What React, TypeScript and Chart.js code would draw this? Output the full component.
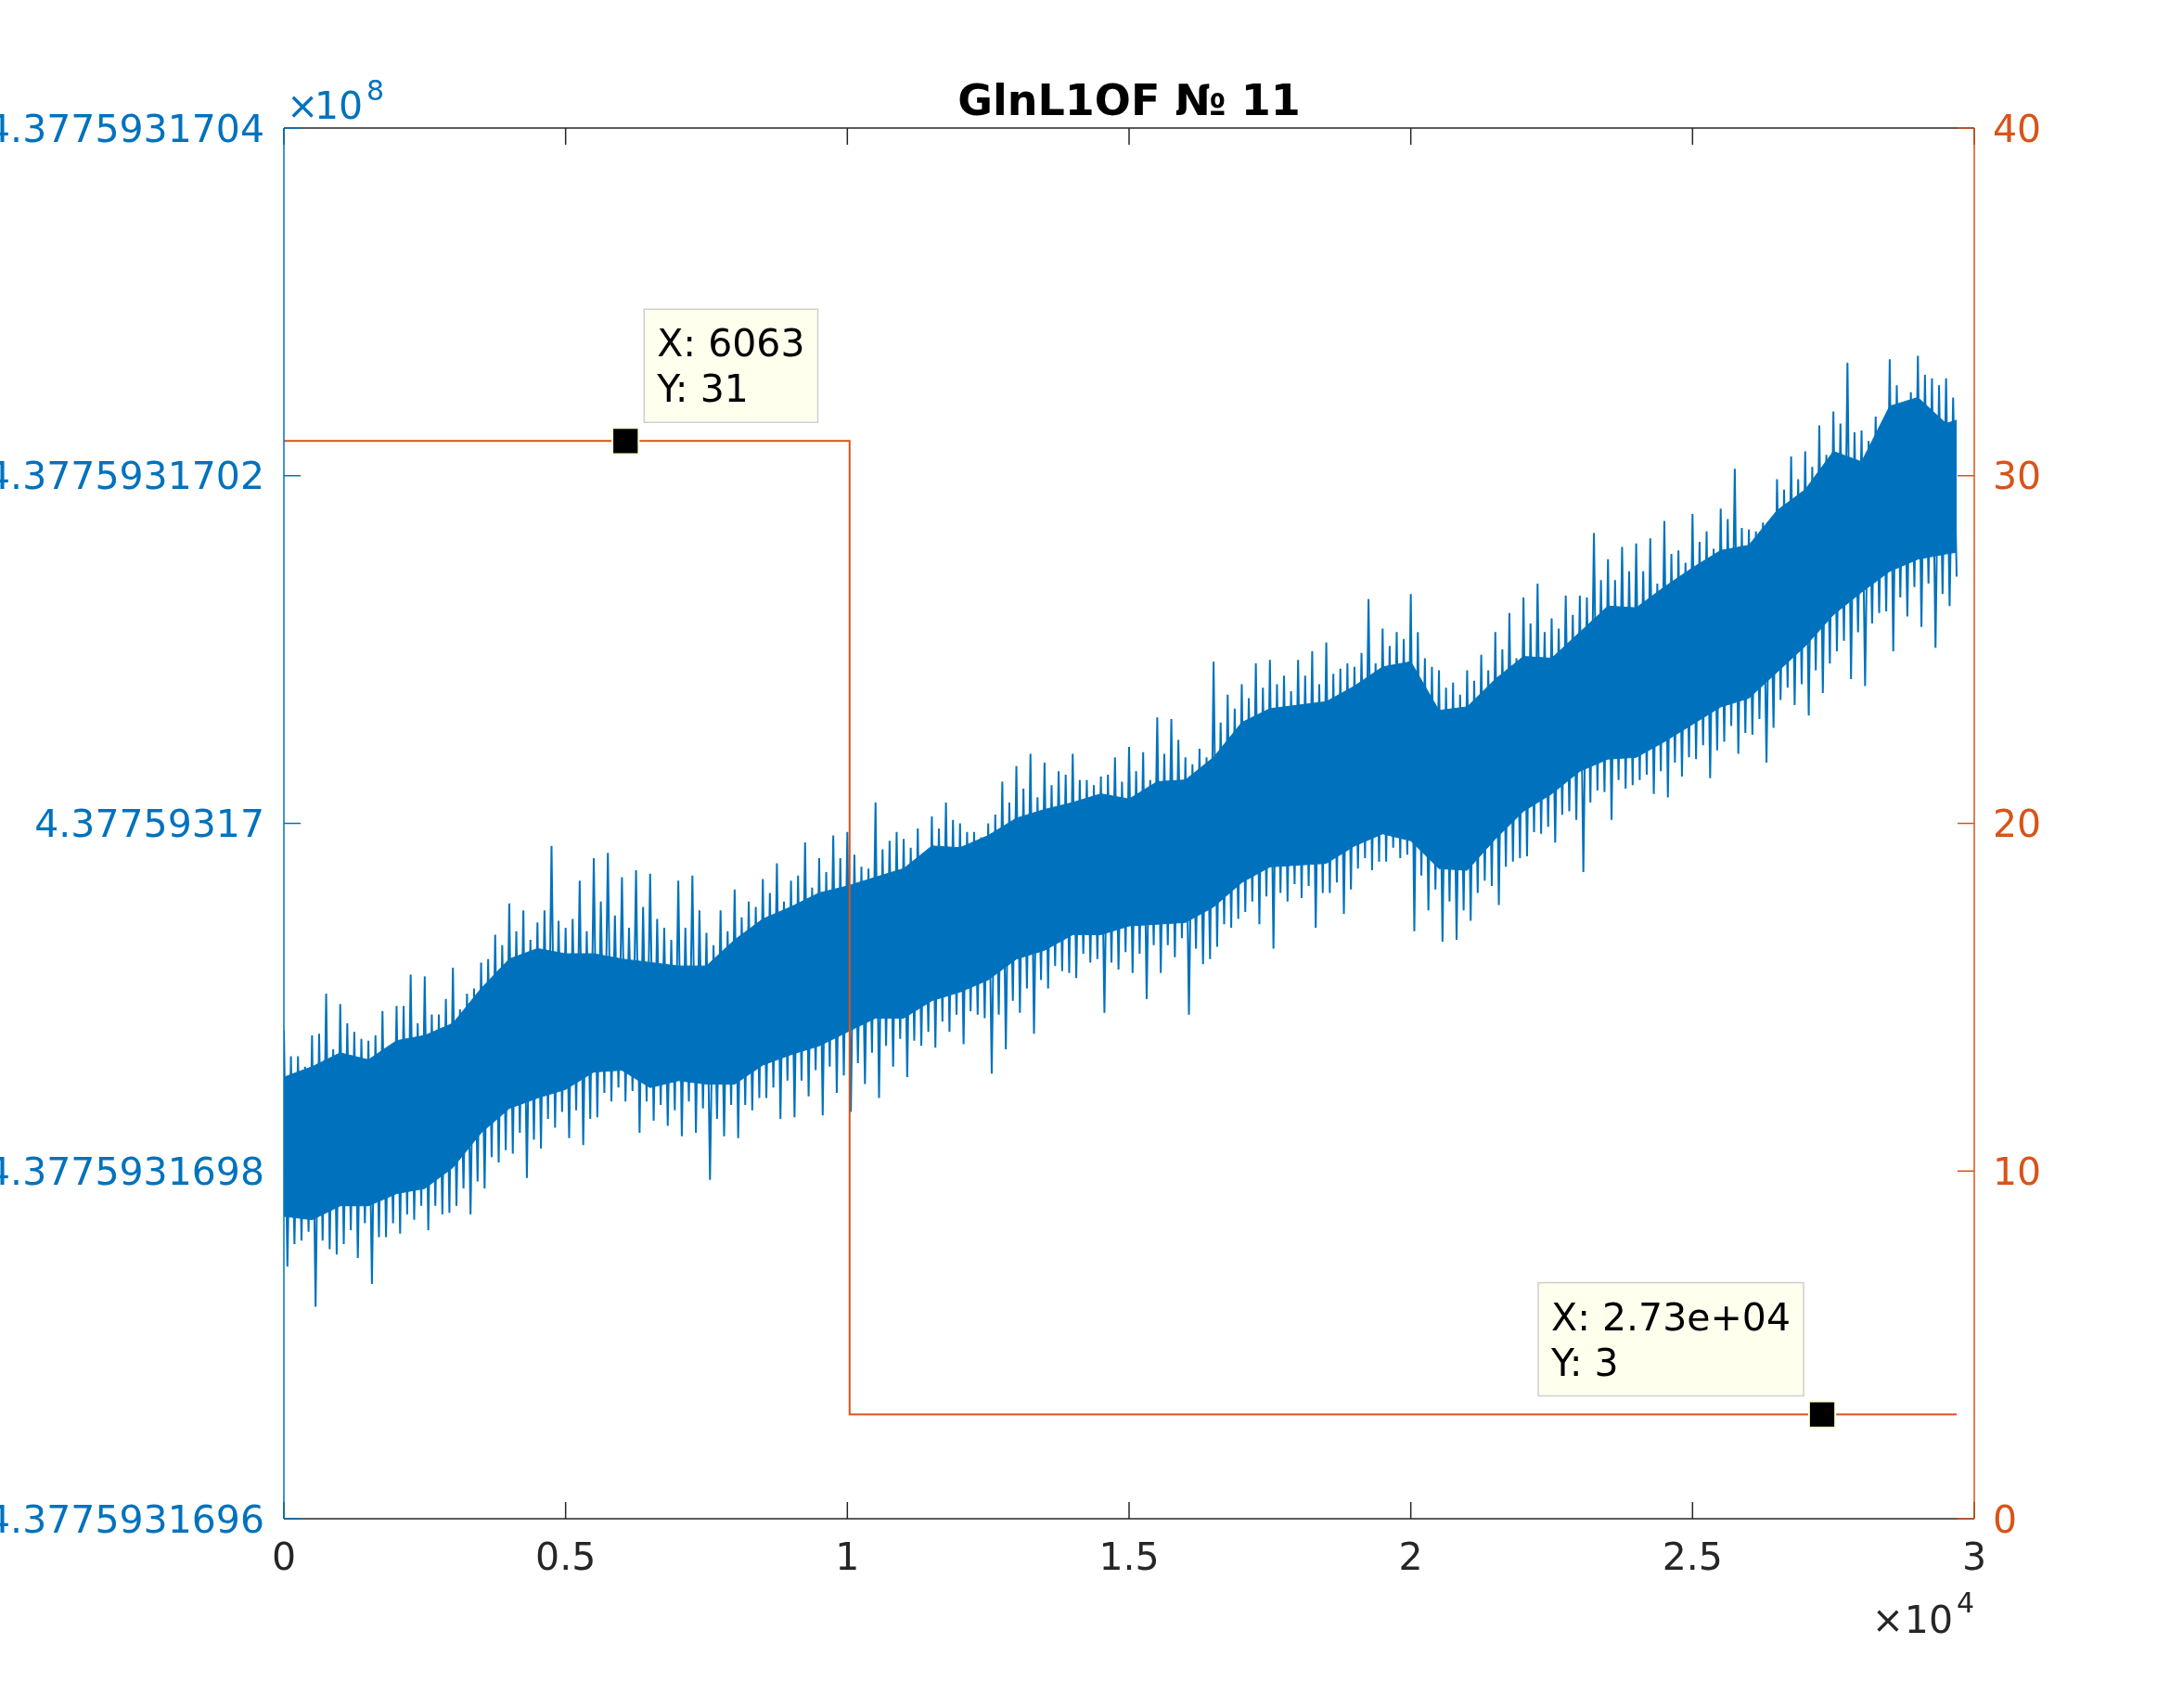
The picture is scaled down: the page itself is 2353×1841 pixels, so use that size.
import React, { useEffect, useRef } from "react";
import { Chart, registerables } from "chart.js";

Chart.register(...registerables);

// ---------------- data ----------------
// x axis (samples), shown as ×10^4
const X_MIN = 0;
const X_MAX = 30000;
const X_TICK_VALUES = [0, 5000, 10000, 15000, 20000, 25000, 30000];
const X_TICK_LABELS = ["0", "0.5", "1", "1.5", "2", "2.5", "3"];

// left axis: values stored as offset above 4.3775931696×10^8, in units of 1e-10 (×10^8)
const LEFT_MIN = 0;
const LEFT_MAX = 8;
const LEFT_TICK_VALUES = [0, 2, 4, 6, 8];
const LEFT_TICK_LABELS = [
  "4.3775931696",
  "4.3775931698",
  "4.37759317",
  "4.3775931702",
  "4.3775931704",
];

// right axis
const RIGHT_MIN = 0;
const RIGHT_MAX = 40;
const RIGHT_TICK_VALUES = [0, 10, 20, 30, 40];
const RIGHT_TICK_LABELS = ["0", "10", "20", "30", "40"];

// last sample index of both series
const BLUE_END_X = 29690;

// blue signal: dense core of the noise band, every 500 samples (last point at BLUE_END_X)
const CORE_STEP = 500;
const blueCoreTop = [
  2.54, 2.6, 2.68, 2.64, 2.75, 2.78, 2.85, 3.05, 3.22, 3.28,
  3.25, 3.25, 3.22, 3.2, 3.18, 3.18, 3.33, 3.45, 3.52, 3.6,
  3.64, 3.69, 3.74, 3.87, 3.86, 3.93, 4.03, 4.08, 4.12, 4.17,
  4.14, 4.24, 4.25, 4.38, 4.58, 4.66, 4.68, 4.7, 4.79, 4.9,
  4.93, 4.65, 4.67, 4.83, 4.96, 4.95, 5.1, 5.25, 5.24, 5.36,
  5.47, 5.57, 5.6, 5.8, 5.92, 6.14, 6.08, 6.4, 6.45, 6.3,
  6.32,
];
const blueCoreBottom = [
  1.74, 1.72, 1.8, 1.8, 1.87, 1.9, 2.02, 2.22, 2.36, 2.42,
  2.47, 2.57, 2.58, 2.48, 2.52, 2.5, 2.5, 2.61, 2.67, 2.72,
  2.8, 2.88, 2.88, 2.98, 3.03, 3.1, 3.22, 3.27, 3.36, 3.36,
  3.41, 3.42, 3.43, 3.52, 3.66, 3.75, 3.76, 3.77, 3.87, 3.94,
  3.9, 3.74, 3.73, 3.91, 4.07, 4.17, 4.3, 4.37, 4.38, 4.47,
  4.57, 4.67, 4.72, 4.87, 5.02, 5.2, 5.33, 5.45, 5.52, 5.55,
  5.56,
];

// blue signal spikes, one group per 250 samples:
// tall maxima (at +0), deep minima (at +62.5), smaller maxima (at +125), smaller minima (at +187.5)
const SPIKE_STEP = 250;
const blueSpikeHigh = [
  2.81, 2.66, 2.78, 3.02, 2.96, 2.8, 2.75, 2.92, 2.95, 3.13,
  3.12, 2.9, 3.17, 3.02, 3.2, 3.36, 3.54, 3.5, 3.43, 3.87,
  3.4, 3.67, 3.8, 3.83, 3.69, 3.73, 3.71, 3.4, 3.67, 3.7,
  3.37, 3.5, 3.62, 3.55, 3.68, 3.77, 3.67, 3.89, 3.8, 3.93,
  3.95, 3.75, 4.12, 3.9, 3.91, 3.97, 4.04, 4.12, 4.0, 3.95,
  4.0, 4.24, 4.33, 4.4, 4.35, 4.3, 4.4, 4.25, 4.27, 4.38,
  4.44, 4.41, 4.61, 4.6, 4.38, 4.43, 4.93, 4.74, 4.8, 4.92,
  4.94, 4.85, 4.94, 4.99, 5.04, 4.89, 4.9, 5.29, 5.12, 5.1,
  5.32, 4.95, 4.88, 4.81, 4.88, 4.97, 5.1, 5.21, 5.3, 5.38,
  5.18, 5.31, 5.31, 5.67, 5.52, 5.59, 5.61, 5.64, 5.74, 5.57,
  5.78, 5.68, 5.81, 6.04, 5.69, 5.73, 5.98, 6.11, 6.14, 6.29,
  6.37, 6.65, 6.26, 6.34, 6.67, 6.35, 6.69, 6.56, 6.56,
];
const blueSpikeLow = [
  1.45, 1.6, 1.22, 1.55, 1.58, 1.5, 1.35, 1.62, 1.64, 1.72,
  1.66, 1.75, 1.8, 1.75, 1.9, 2.05, 2.1, 1.96, 2.13, 2.25,
  2.19, 2.15, 2.31, 2.4, 2.4, 2.22, 2.29, 2.26, 2.2, 2.22,
  1.95, 2.2, 2.19, 2.35, 2.42, 2.3, 2.31, 2.43, 2.32, 2.45,
  2.34, 2.5, 2.42, 2.6, 2.54, 2.72, 2.71, 2.8, 2.73, 2.9,
  2.56, 2.7, 2.91, 2.79, 3.05, 3.15, 3.11, 3.2, 2.91, 3.16,
  3.14, 2.99, 3.14, 3.23, 2.9, 3.19, 3.29, 3.4, 3.49, 3.42,
  3.28, 3.55, 3.57, 3.4, 3.6, 3.48, 3.74, 3.73, 3.78, 3.8,
  3.38, 3.5, 3.32, 3.33, 3.44, 3.67, 3.53, 3.78, 3.81, 3.94,
  3.89, 4.07, 3.72, 4.19, 4.02, 4.2, 4.25, 4.17, 4.15, 4.27,
  4.37, 4.26, 4.47, 4.4, 4.51, 4.35, 4.71, 4.68, 4.62, 4.75,
  4.99, 4.83, 4.79, 5.21, 4.99, 5.19, 5.13, 5.01, 5.25,
];
const blueSpikeHigh2 = [
  2.66, 2.6, 2.79, 2.7, 2.85, 2.76, 2.78, 2.72, 2.95, 2.85,
  2.9, 2.99, 2.93, 3.05, 3.22, 3.3, 3.38, 3.33, 3.5, 3.44,
  3.45, 3.38, 3.55, 3.47, 3.4, 3.52, 3.45, 3.33, 3.4, 3.5,
  3.3, 3.38, 3.46, 3.52, 3.6, 3.55, 3.7, 3.63, 3.72, 3.8,
  3.82, 3.74, 3.85, 3.95, 3.86, 3.82, 3.97, 4.02, 3.95, 3.92,
  4.05, 4.12, 4.2, 4.15, 4.22, 4.28, 4.25, 4.22, 4.28, 4.24,
  4.3, 4.25, 4.4, 4.48, 4.34, 4.38, 4.58, 4.66, 4.72, 4.78,
  4.8, 4.76, 4.85, 4.8, 4.86, 4.92, 4.98, 4.92, 5.02, 5.06,
  5.1, 4.9, 4.78, 4.74, 4.82, 4.88, 5.0, 4.95, 5.15, 5.1,
  5.12, 5.2, 5.3, 5.4, 5.4, 5.45, 5.45, 5.38, 5.55, 5.5,
  5.62, 5.58, 5.75, 5.7, 5.68, 5.72, 5.92, 5.98, 6.05, 6.12,
  6.3, 6.25, 6.2, 6.28, 6.52, 6.48, 6.58, 6.52, 6.45,
];
const blueSpikeLow2 = [
  1.58, 1.65, 1.6, 1.52, 1.66, 1.7, 1.62, 1.7, 1.75, 1.8,
  1.8, 1.76, 1.9, 1.94, 2.08, 2.12, 2.22, 2.18, 2.3, 2.34,
  2.35, 2.3, 2.45, 2.48, 2.46, 2.4, 2.38, 2.35, 2.4, 2.36,
  2.3, 2.38, 2.38, 2.42, 2.48, 2.52, 2.52, 2.58, 2.6, 2.55,
  2.62, 2.68, 2.72, 2.76, 2.75, 2.8, 2.86, 2.9, 2.92, 2.88,
  2.9, 2.98, 3.05, 3.1, 3.18, 3.14, 3.25, 3.22, 3.2, 3.26,
  3.25, 3.3, 3.3, 3.34, 3.28, 3.22, 3.42, 3.45, 3.55, 3.58,
  3.6, 3.65, 3.64, 3.6, 3.66, 3.62, 3.8, 3.78, 3.86, 3.82,
  3.7, 3.62, 3.55, 3.5, 3.6, 3.64, 3.75, 3.8, 3.95, 3.98,
  4.05, 4.02, 4.12, 4.18, 4.25, 4.22, 4.28, 4.3, 4.35, 4.38,
  4.45, 4.42, 4.56, 4.52, 4.6, 4.55, 4.78, 4.8, 4.88, 4.92,
  5.05, 5.1, 5.15, 5.22, 5.3, 5.36, 5.38, 5.32, 5.42,
];

// orange step series (right axis)
const stepX = [0, 10040, BLUE_END_X];
const stepY = [31, 3, 3];

// data tips
const tipX = [6063, 27300];
const tipY = [31, 3];

// ---------------- style ----------------
const W = 2353;
const H = 1841;
const FONT = '"DejaVu Sans", "Liberation Sans", sans-serif';
const BLUE = "#0072BD";
const ORANGE = "#D95319";
const AXIS_GRAY = "#262626";
const TICK_LEN = 18;

function fmtG(v: number, p = 4): string {
  if (v === 0) return "0";
  const e = Math.floor(Math.log10(Math.abs(v)));
  if (e < -4 || e >= p) {
    const parts = v.toExponential(p - 1).split("e");
    let m = parts[0];
    if (m.includes(".")) m = m.replace(/0+$/, "").replace(/\.$/, "");
    const n = parseInt(parts[1], 10);
    return `${m}e${n < 0 ? "-" : "+"}${String(Math.abs(n)).padStart(2, "0")}`;
  }
  return String(parseFloat(v.toPrecision(p)));
}

const overlayPlugin = {
  id: "matlabOverlay",
  afterDatasetsDraw(chart: any) {
    const { ctx, chartArea: a, scales } = chart;
    const sx = scales.x;
    const sl = scales.y;
    const sr = scales.y2;
    const line = (x1: number, y1: number, x2: number, y2: number) => {
      ctx.beginPath();
      ctx.moveTo(x1, y1);
      ctx.lineTo(x2, y2);
      ctx.stroke();
    };
    ctx.save();
    ctx.lineWidth = 1.5;
    ctx.lineCap = "butt";
    ctx.strokeStyle = AXIS_GRAY;
    line(a.left, a.bottom, a.right, a.bottom);
    line(a.left, a.top, a.right, a.top);
    X_TICK_VALUES.forEach((v) => {
      const px = sx.getPixelForValue(v);
      line(px, a.bottom, px, a.bottom - TICK_LEN);
      line(px, a.top, px, a.top + TICK_LEN);
    });
    ctx.strokeStyle = BLUE;
    line(a.left, a.top, a.left, a.bottom);
    LEFT_TICK_VALUES.forEach((v) => {
      const py = sl.getPixelForValue(v);
      line(a.left, py, a.left + TICK_LEN, py);
    });
    ctx.strokeStyle = ORANGE;
    line(a.right, a.top, a.right, a.bottom);
    RIGHT_TICK_VALUES.forEach((v) => {
      const py = sr.getPixelForValue(v);
      line(a.right, py, a.right - TICK_LEN, py);
    });
    ctx.restore();
  },
  afterDraw(chart: any) {
    const { ctx, chartArea: a, scales } = chart;
    const sx = scales.x;
    const sr = scales.y2;
    ctx.save();
    // title
    ctx.fillStyle = "#000";
    ctx.font = `bold 46px ${FONT}`;
    ctx.textAlign = "center";
    ctx.textBaseline = "alphabetic";
    ctx.fillText("GlnL1OF № 11", (a.left + a.right) / 2, a.top - 14);

    // ×10^8 (left axis exponent)
    ctx.fillStyle = BLUE;
    ctx.textAlign = "left";
    ctx.font = `41px ${FONT}`;
    ctx.fillText("×", a.left + 3, a.top - 10);
    ctx.fillText("10", a.left + 33, a.top - 10);
    ctx.font = `30px ${FONT}`;
    ctx.fillText("8", a.left + 89, a.top - 30);

    // ×10^4 (x axis exponent)
    ctx.fillStyle = AXIS_GRAY;
    ctx.textAlign = "right";
    ctx.font = `30px ${FONT}`;
    ctx.fillText("4", a.right, a.bottom + 101);
    ctx.font = `41px ${FONT}`;
    ctx.fillText("10", a.right - 23, a.bottom + 123);
    ctx.fillText("×", a.right - 76, a.bottom + 123);

    // data tips
    ctx.font = `41px ${FONT}`;
    tipX.forEach((xv, i) => {
      const yv = tipY[i];
      const mx = sx.getPixelForValue(xv);
      const my = sr.getPixelForValue(yv);
      const lines = [`X: ${fmtG(xv)}`, `Y: ${fmtG(yv)}`];
      const tw = Math.max(...lines.map((s) => ctx.measureText(s).width));
      const bw = tw + 28;
      const bh = 122;
      let bx = mx + 20;
      if (bx + bw > a.right) bx = mx - 20 - bw;
      const by = my - 20 - bh;
      ctx.fillStyle = "#FFFFEE";
      ctx.fillRect(bx, by, bw, bh);
      ctx.strokeStyle = "#CFCFCF";
      ctx.lineWidth = 1.5;
      ctx.strokeRect(bx, by, bw, bh);
      ctx.fillStyle = "#000";
      ctx.textAlign = "left";
      ctx.textBaseline = "alphabetic";
      ctx.fillText(lines[0], bx + 14, by + 51);
      ctx.fillText(lines[1], bx + 14, by + 100);
    });
    ctx.restore();
  },
};

function buildConfig(): any {
  const coreX = (i: number) => Math.min(i * CORE_STEP, BLUE_END_X);
  const coreTopPts = blueCoreTop.map((y, i) => ({ x: coreX(i), y }));
  const coreBotPts = blueCoreBottom.map((y, i) => ({ x: coreX(i), y }));
  const spikePts: { x: number; y: number }[] = [];
  blueSpikeHigh.forEach((hi, i) => {
    const x0 = i * SPIKE_STEP;
    spikePts.push({ x: x0, y: hi });
    spikePts.push({ x: x0 + SPIKE_STEP * 0.25, y: blueSpikeLow[i] });
    spikePts.push({ x: x0 + SPIKE_STEP * 0.5, y: blueSpikeHigh2[i] });
    spikePts.push({ x: Math.min(x0 + SPIKE_STEP * 0.75, BLUE_END_X), y: blueSpikeLow2[i] });
  });
  const stepPts = stepX.map((x, i) => ({ x, y: stepY[i] }));
  const tipPts = tipX.map((x, i) => ({ x, y: tipY[i] }));

  const tickFont = { family: FONT, size: 41 };

  return {
    type: "line",
    data: {
      datasets: [
        {
          label: "tips",
          data: tipPts,
          yAxisID: "y2",
          showLine: false,
          pointStyle: "rect",
          pointRadius: 20,
          pointBackgroundColor: "#000000",
          pointBorderColor: "#FFFFD8",
          pointBorderWidth: 2,
          order: 0,
        },
        {
          label: "step",
          data: stepPts,
          yAxisID: "y2",
          stepped: "before",
          borderColor: ORANGE,
          borderWidth: 2,
          pointRadius: 0,
          fill: false,
          order: 1,
        },
        {
          label: "spikes",
          data: spikePts,
          yAxisID: "y",
          borderColor: BLUE,
          borderWidth: 2,
          pointRadius: 0,
          fill: false,
          order: 2,
        },
        {
          label: "coreTop",
          data: coreTopPts,
          yAxisID: "y",
          borderColor: BLUE,
          borderWidth: 1,
          backgroundColor: BLUE,
          pointRadius: 0,
          fill: "+1",
          order: 3,
        },
        {
          label: "coreBottom",
          data: coreBotPts,
          yAxisID: "y",
          borderColor: BLUE,
          borderWidth: 1,
          pointRadius: 0,
          fill: false,
          order: 4,
        },
      ],
    },
    options: {
      responsive: false,
      animation: false,
      events: [],
      layout: { padding: { top: 138, left: 0, right: 0, bottom: 0 } },
      plugins: {
        legend: { display: false },
        tooltip: { enabled: false },
        title: { display: false },
      },
      scales: {
        x: {
          type: "linear",
          position: "bottom",
          min: X_MIN,
          max: X_MAX,
          grid: { display: false, drawTicks: false },
          border: { display: false },
          afterBuildTicks: (s: any) => {
            s.ticks = X_TICK_VALUES.map((value) => ({ value }));
          },
          afterFit: (s: any) => {
            s.height = 204;
          },
          ticks: {
            autoSkip: false,
            maxRotation: 0,
            padding: 20,
            color: AXIS_GRAY,
            font: tickFont,
            callback: (v: number) => {
              const i = X_TICK_VALUES.indexOf(v);
              return i >= 0 ? X_TICK_LABELS[i] : "";
            },
          },
        },
        y: {
          type: "linear",
          position: "left",
          min: LEFT_MIN,
          max: LEFT_MAX,
          grid: { display: false, drawTicks: false },
          border: { display: false },
          afterBuildTicks: (s: any) => {
            s.ticks = LEFT_TICK_VALUES.map((value) => ({ value }));
          },
          afterFit: (s: any) => {
            s.width = 306;
          },
          ticks: {
            autoSkip: false,
            padding: 21,
            labelOffset: 4,
            color: BLUE,
            font: tickFont,
            callback: (v: number) => {
              const i = LEFT_TICK_VALUES.indexOf(v);
              return i >= 0 ? LEFT_TICK_LABELS[i] : "";
            },
          },
        },
        y2: {
          type: "linear",
          position: "right",
          min: RIGHT_MIN,
          max: RIGHT_MAX,
          grid: { display: false, drawTicks: false },
          border: { display: false },
          afterBuildTicks: (s: any) => {
            s.ticks = RIGHT_TICK_VALUES.map((value) => ({ value }));
          },
          afterFit: (s: any) => {
            s.width = 225;
          },
          ticks: {
            autoSkip: false,
            padding: 20,
            labelOffset: 4,
            color: ORANGE,
            font: tickFont,
            callback: (v: number) => {
              const i = RIGHT_TICK_VALUES.indexOf(v);
              return i >= 0 ? RIGHT_TICK_LABELS[i] : "";
            },
          },
        },
      },
    },
    plugins: [overlayPlugin],
  };
}

export default function App() {
  const ref = useRef<HTMLCanvasElement>(null);
  useEffect(() => {
    if (!ref.current) return;
    const chart = new Chart(ref.current, buildConfig());
    return () => chart.destroy();
  }, []);
  return (
    <div
      style={{
        position: "fixed",
        left: 0,
        top: 0,
        width: W,
        height: H,
        background: "#ffffff",
      }}
    >
      <canvas
        ref={ref}
        width={W}
        height={H}
        style={{ display: "block", width: W, height: H }}
      />
    </div>
  );
}
